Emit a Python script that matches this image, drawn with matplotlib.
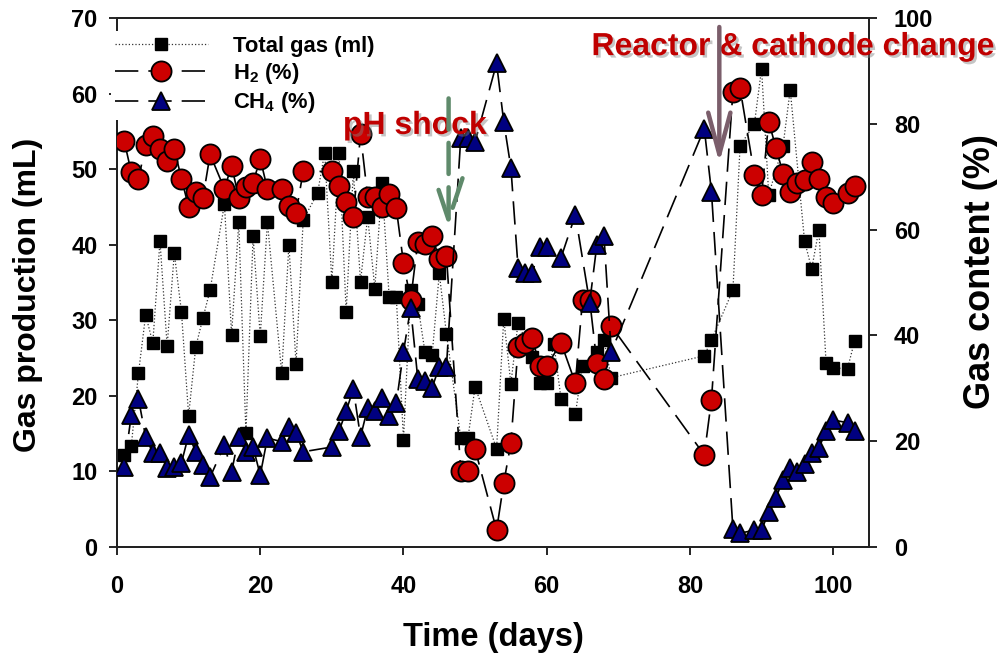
import matplotlib
matplotlib.use("Agg")
import matplotlib.pyplot as plt
from matplotlib import patheffects

plt.rcParams['font.family'] = ['Liberation Sans', 'DejaVu Sans']
plt.rcParams['font.weight'] = 'bold'
plt.rcParams['mathtext.fontset'] = 'custom'
plt.rcParams['mathtext.rm'] = 'Liberation Sans:bold'
plt.rcParams['mathtext.it'] = 'Liberation Sans:bold'
plt.rcParams['mathtext.bf'] = 'Liberation Sans:bold'

# Total gas production (mL)
gas_day = [1, 2, 3, 4, 5, 6, 7, 8, 9, 10, 11, 12, 13, 15, 16, 17, 18, 19, 20, 21,
           23, 24, 25, 26, 28, 29, 30, 31, 32, 33, 34, 35, 36, 37, 38, 39, 40, 41,
           42, 43, 44, 45, 46, 48, 49, 50, 53, 54, 55, 56, 58, 59, 60, 61, 62, 64,
           65, 67, 68, 69, 82, 83, 86, 87, 89, 90, 91, 93, 94, 96, 97, 98, 99, 100,
           102, 103]
gas_ml = [12.2, 13.4, 23.0, 30.7, 27.0, 40.5, 26.6, 38.9, 31.1, 17.4, 26.5, 30.3,
          34.0, 45.4, 28.1, 43.0, 15.1, 41.1, 27.9, 43.0, 23.0, 40.0, 24.2, 43.3,
          46.8, 52.2, 35.1, 52.2, 31.1, 49.7, 35.1, 43.7, 34.2, 48.2, 33.1, 33.1,
          14.2, 34.0, 32.1, 25.8, 25.4, 36.2, 28.2, 14.4, 14.4, 21.2, 13.0, 30.2,
          21.6, 29.7, 25.2, 21.7, 21.7, 26.9, 19.6, 17.6, 24.0, 25.8, 27.4, 22.4,
          25.3, 27.4, 34.0, 53.1, 56.0, 63.3, 46.6, 53.1, 60.5, 40.5, 36.8, 42.0,
          24.4, 23.7, 23.6, 27.3]

# Hydrogen content (%)
h2_day = [1, 2, 3, 4, 5, 6, 7, 8, 9, 10, 11, 12, 13, 15, 16, 17, 18, 19, 20, 21,
          23, 24, 25, 26, 30, 31, 32, 33, 34, 35, 36, 37, 38, 39, 40, 41, 42, 43,
          44, 45, 46, 48, 49, 50, 53, 54, 55, 56, 57, 58, 59, 60, 62, 64, 65, 66,
          67, 68, 69, 82, 83, 86, 87, 89, 90, 91, 92, 93, 94, 95, 96, 97, 98, 99,
          100, 102, 103]
h2_pct = [76.8, 70.8, 69.6, 75.9, 77.6, 75.3, 73.0, 75.3, 69.6, 64.3, 67.2, 66.0,
          74.2, 67.7, 72.1, 66.0, 68.1, 68.9, 73.4, 67.7, 67.7, 64.5, 63.2, 71.0,
          71.0, 68.3, 65.3, 62.3, 78.1, 66.2, 66.2, 64.3, 66.8, 64.0, 53.7, 46.7,
          57.7, 57.3, 58.7, 54.5, 55.1, 14.4, 14.4, 18.5, 3.2, 12.1, 19.7, 37.8,
          38.6, 39.5, 34.2, 34.2, 38.6, 31.0, 46.7, 46.7, 34.8, 31.8, 41.8, 17.4,
          27.8, 86.1, 86.7, 70.4, 66.6, 80.4, 75.5, 70.6, 67.2, 68.9, 69.4, 72.7,
          69.6, 66.2, 65.1, 67.0, 68.3]

# Methane content (%)
ch4_day = [1, 2, 3, 4, 5, 6, 7, 8, 9, 10, 11, 12, 13, 15, 16, 17, 18, 19, 20, 21,
           23, 24, 25, 26, 30, 31, 32, 33, 34, 35, 36, 37, 38, 39, 40, 41, 42, 43,
           44, 45, 46, 48, 49, 50, 53, 54, 55, 56, 57, 58, 59, 60, 62, 64, 66, 67,
           68, 69, 82, 83, 86, 87, 89, 90, 91, 92, 93, 94, 95, 96, 97, 98, 99, 100,
           102, 103]
ch4_pct = [15.1, 25.0, 28.0, 20.8, 17.8, 17.8, 14.9, 15.1, 15.9, 21.2, 18.0, 15.5,
           13.2, 19.3, 14.2, 20.8, 18.0, 18.9, 13.6, 20.6, 19.9, 22.7, 21.6, 18.0,
           18.9, 21.9, 25.7, 29.9, 20.8, 26.3, 25.7, 28.2, 24.8, 27.2, 36.9, 45.2,
           31.8, 31.4, 30.1, 34.1, 34.1, 77.4, 77.4, 76.6, 91.4, 80.4, 71.7, 52.8,
           51.8, 51.8, 56.8, 56.8, 54.7, 62.8, 46.2, 57.1, 58.7, 36.9, 79.1, 67.2,
           3.4, 2.6, 3.2, 3.2, 6.6, 9.3, 12.7, 14.9, 14.2, 15.7, 17.8, 18.7, 21.9,
           24.0, 23.5, 21.9]

x_ticks = [0, 20, 40, 60, 80, 100]
left_ticks = [0, 10, 20, 30, 40, 50, 60, 70]
right_ticks = [0, 20, 40, 60, 80, 100]

RED = '#CC0000'
NAVY = '#000080'
TXT_RED = '#C00000'

fig = plt.figure(figsize=(9.98, 6.58), dpi=100)
ax1 = fig.add_axes([117 / 998, 1 - 547 / 658, 752 / 998, 529 / 658])
ax2 = ax1.twinx()

gas_line, = ax1.plot(gas_day, gas_ml, linestyle=':', color='#333333', lw=0.9,
                     marker='s', ms=9, mfc='black', mec='black', zorder=3,
                     label='Total gas (ml)')
h2_line, = ax2.plot(h2_day, h2_pct, color='black', lw=1.2, dashes=[14, 6],
                    marker='o', ms=14.5, mfc=RED, mec='black', mew=1.3, zorder=3,
                    label='H$_2$ (%)')
ch4_line, = ax2.plot(ch4_day, ch4_pct, color='black', lw=1.2, dashes=[14, 6],
                     marker='^', ms=13, mfc=NAVY, mec='black', mew=1.3, zorder=4,
                     label='CH$_4$ (%)')

ax1.set_xlim(0, 105)
ax1.set_ylim(0, 70)
ax2.set_ylim(0, 100)
ax1.set_xticks(x_ticks)
ax1.set_yticks(left_ticks)
ax2.set_yticks(right_ticks)

for ax in (ax1, ax2):
    ax.tick_params(direction='out', length=6, width=1.2, labelsize=17)
    for s in ax.spines.values():
        s.set_linewidth(1.4)
        s.set_color('#222222')
ax1.tick_params(axis='x', pad=14)
ax1.tick_params(axis='y', pad=8)
ax2.tick_params(axis='y', pad=12)

ax1.set_xlabel('Time (days)', fontsize=23.5, fontweight='bold')
ax1.set_ylabel('Gas production (mL)', fontsize=23, fontweight='bold')
ax2.set_ylabel('Gas content (%)', fontsize=26, fontweight='bold', rotation=90)
ax1.xaxis.set_label_coords(0.5, -0.172)
ax1.xaxis.label.set_va('center')
ax1.yaxis.set_label_coords(-0.118, 0.476)
ax1.yaxis.label.set_va('center')
ax2.yaxis.set_label_coords(1.148, 0.52)
ax2.yaxis.label.set_va('center')

leg = ax2.legend(handles=[gas_line, h2_line, ch4_line], loc='upper left',
                 bbox_to_anchor=(-0.008, 0.975), fontsize=15.8, frameon=True,
                 facecolor='white', edgecolor='none', framealpha=1,
                 handlelength=4.2, handletextpad=1.15, labelspacing=0.2,
                 borderpad=0.2, borderaxespad=0)
leg.set_zorder(6)

shadow = [patheffects.SimplePatchShadow(offset=(1.8, -1.8), shadow_rgbFace='#808080',
                                        alpha=0.45),
          patheffects.Normal()]

ax2.text(41.6, 79.6, 'pH shock', color=TXT_RED, fontsize=23, fontweight='bold',
         ha='center', va='center', zorder=7, path_effects=shadow)
ax2.text(94.4, 94.5, 'Reactor & cathode change', color=TXT_RED, fontsize=23,
         fontweight='bold', ha='center', va='center', zorder=7, clip_on=False,
         path_effects=shadow)

ax2.annotate('', xy=(46.3, 60.5), xytext=(46.3, 84.8),
             arrowprops=dict(arrowstyle='->,head_length=1.5,head_width=0.5',
                             color='#5F8A6B', lw=3.2, linestyle=(0, (7, 3)),
                             mutation_scale=20, shrinkA=0, shrinkB=0),
             zorder=8)
ax2.annotate('', xy=(84.1, 72.6), xytext=(84.1, 98.3),
             arrowprops=dict(arrowstyle='->,head_length=1.5,head_width=0.4',
                             color='#7B5E6B', lw=3.2, mutation_scale=20,
                             shrinkA=0, shrinkB=0),
             zorder=8, annotation_clip=False)

fig.savefig('out.png', dpi=100)
